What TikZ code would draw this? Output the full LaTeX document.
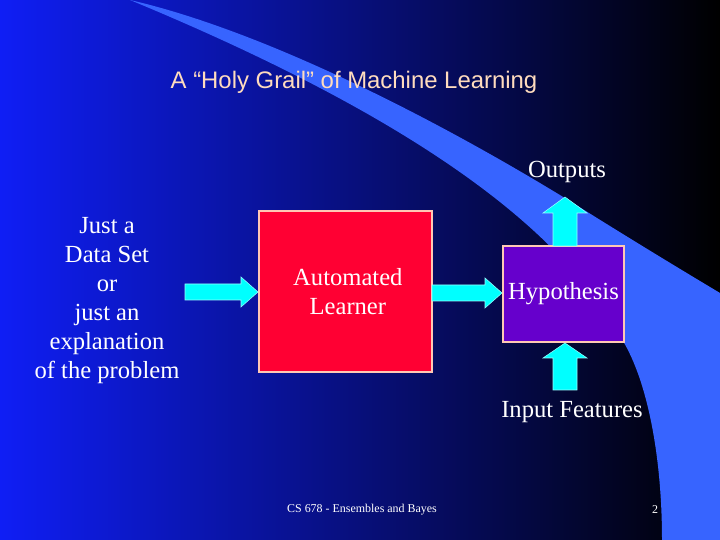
\documentclass[tikz,border=0pt]{standalone}
\usepackage{fontspec}
\setmainfont{Liberation Serif}
\setsansfont{Liberation Sans}
\usetikzlibrary{positioning}
\definecolor{slideblue}{RGB}{15,30,245}
\definecolor{midblue}{RGB}{0,0,160}
\definecolor{swoosh}{RGB}{55,100,255}
\definecolor{boxred}{RGB}{255,0,51}
\definecolor{boxpurple}{RGB}{102,0,204}
\definecolor{arrowcyan}{RGB}{0,255,255}
\definecolor{titlecol}{RGB}{255,220,190}
\begin{document}
\begin{tikzpicture}[x=0.02cm,y=-0.02cm]
  \tikzstyle{label}=[text=white,font=\fontsize{14}{16.5}\selectfont,align=center];
  \tikzstyle{block}=[draw={rgb,255:red,255;green,200;blue,180},line width=0.6pt,inner sep=0pt];
  \tikzstyle{fat}=[fill=arrowcyan,draw={rgb,255:red,150;green,255;blue,255},line width=0.3pt];

  % background
  \shade[left color=slideblue,middle color=midblue,right color=black] (0,0) rectangle (720,540);
  \useasboundingbox (0,0) rectangle (720,540);

  % swoosh
  \fill[swoosh] (130,0) .. controls (260,30) and (430,115) .. (573,203)
    .. controls (640,245) and (690,275) .. (720,293) -- (720,540) -- (662,540)
    .. controls (662,450) and (645,370) .. (617,332)
    .. controls (560,230) and (420,120) .. (130,0) -- cycle;

  % title
  \node[text=titlecol,font=\sffamily\fontsize{13.6}{16}\selectfont] (title) at (354,82)
    {A “Holy Grail” of Machine Learning};

  % boxes
  \node[block,fill=boxred,minimum width=3.46cm,minimum height=3.22cm] (learner) at (345.5,291.5) {};
  \node[label,anchor=west] (learnertxt) at (287,292) {Automated\\Learner};
  \node[block,fill=boxpurple,minimum width=2.42cm,minimum height=1.92cm] (hyp) at (563.5,294) {};
  \node[label] at (hyp) {Hypothesis};

  % texts
  \node[label] (data) at (107,301) {Just a\\Data Set\\or\\just an\\explanation\\of the problem};
  \node[label] (out) at (567,172) {Outputs};
  \node[label] (in) at (572,412) {Input Features};
  \node[font=\fontsize{6.8}{8}\selectfont,text=white] (foot) at (362,510) {CS 678 - Ensembles and Bayes};
  \node[font=\fontsize{6.8}{8}\selectfont,text=white] (page) at (655,510) {2};

  % arrows
  \draw[fat] (185,284) -- (241,284) -- (241,277) -- (258,292) -- (241,307) -- (241,300) -- (185,300) -- cycle;
  \draw[fat] (432,285) -- (485,285) -- (485,278) -- (502,293) -- (485,308) -- (485,301) -- (432,301) -- cycle;
  \draw[fat] (553,246) -- (553,213) -- (543,213) -- (565,197) -- (587,213) -- (577,213) -- (577,246) -- cycle;
  \draw[fat] (553,390) -- (553,358) -- (543,358) -- (565,343) -- (587,358) -- (577,358) -- (577,390) -- cycle;
\end{tikzpicture}
\end{document}
